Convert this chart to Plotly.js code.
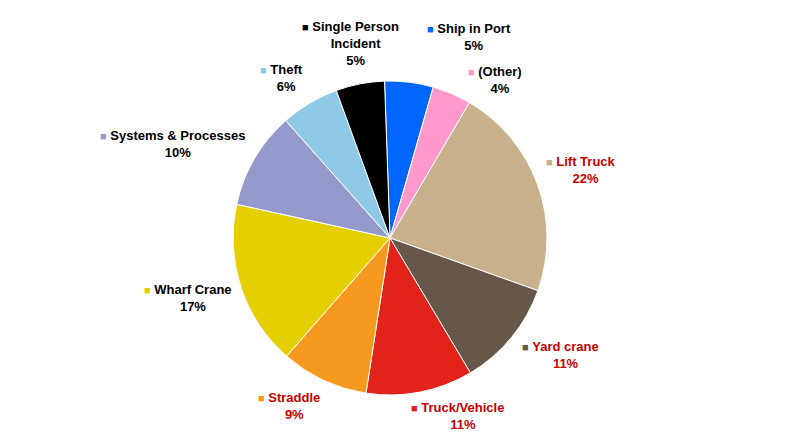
<!DOCTYPE html>
<html>
<head>
<meta charset="utf-8">
<script src="https://cdn.plot.ly/plotly-3.0.1.min.js"></script>
<style>html,body{margin:0;padding:0;background:#fff;}#chart{width:793px;height:444px;}</style>
</head>
<body>
<div id="chart"></div>
<script>
// ---- data ----
const categories = ["Ship in Port", "(Other)", "Lift Truck", "Yard crane", "Truck/Vehicle", "Straddle", "Wharf Crane", "Systems & Processes", "Theft", "Single Person<br>Incident"];
const values = [5, 4, 22, 11, 11, 9, 17, 10, 6, 5];

// ---- style ----
const sliceColors = ["#0066ff", "#ff99cc", "#c8b18b", "#675748", "#e2231a", "#f7991f", "#e6cf00", "#9599cc", "#8ecae8", "#000000"];
const labelColors = ["#000000", "#000000", "#c80000", "#c80000", "#c80000", "#c80000", "#000000", "#000000", "#000000", "#000000"];
// per-label pixel nudges away from the default label ring (layout styling)
const labelNudge = [[54, 2], [25, 30], [-1, 2], [13, -13], [29, -22], [-15, -17], [-8, -4], [-41, 9], [-4, 15], [-1, 6]];

const W = 793, H = 444, cx = 390, cy = 238, r = 157, rot = -2, ring = 1.3;

const total = values.reduce((a, b) => a + b, 0);
const annotations = [];
let cum = 0;
values.forEach((v, i) => {
  const theta = (rot + 360 * (cum + v / 2) / total) * Math.PI / 180;
  cum += v;
  const px = cx + ring * r * Math.sin(theta) + labelNudge[i][0];
  const py = cy - ring * r * Math.cos(theta) + labelNudge[i][1];
  const pct = Math.round(100 * v / total) + "%";
  const spacer = '<span style="font-size:11px;color:rgba(0,0,0,0)">■</span> ';
  const nameLines = categories[i].split("<br>").map((s, k) => (k === 0 ? '<span style="font-size:11px;color:' + sliceColors[i] + '">■</span> ' : spacer) + '<b>' + s + '</b>');
  annotations.push({
    xref: "paper", yref: "paper", x: px / W, y: 1 - py / H,
    xanchor: "center", yanchor: "middle", showarrow: false, align: "center",
    text: nameLines.join("<br>") + '<br>' + spacer + '<b>' + pct + '</b>',
    font: {family: "Liberation Sans, Arial, sans-serif", size: 13, color: labelColors[i]}
  });
});

const trace = {
  type: "pie",
  labels: categories,
  values: values,
  sort: false,
  direction: "clockwise",
  rotation: rot,
  marker: {colors: sliceColors, line: {color: "#ffffff", width: 1}},
  textinfo: "none",
  hoverinfo: "label+percent",
  domain: {x: [(cx - r) / W, (cx + r) / W], y: [1 - (cy + r) / H, 1 - (cy - r) / H]}
};

const layout = {
  width: W, height: H,
  margin: {l: 0, r: 0, t: 0, b: 0},
  showlegend: false,
  paper_bgcolor: "#ffffff",
  annotations: annotations
};

Plotly.newPlot("chart", [trace], layout, {displayModeBar: false, staticPlot: true});
</script>
</body>
</html>
